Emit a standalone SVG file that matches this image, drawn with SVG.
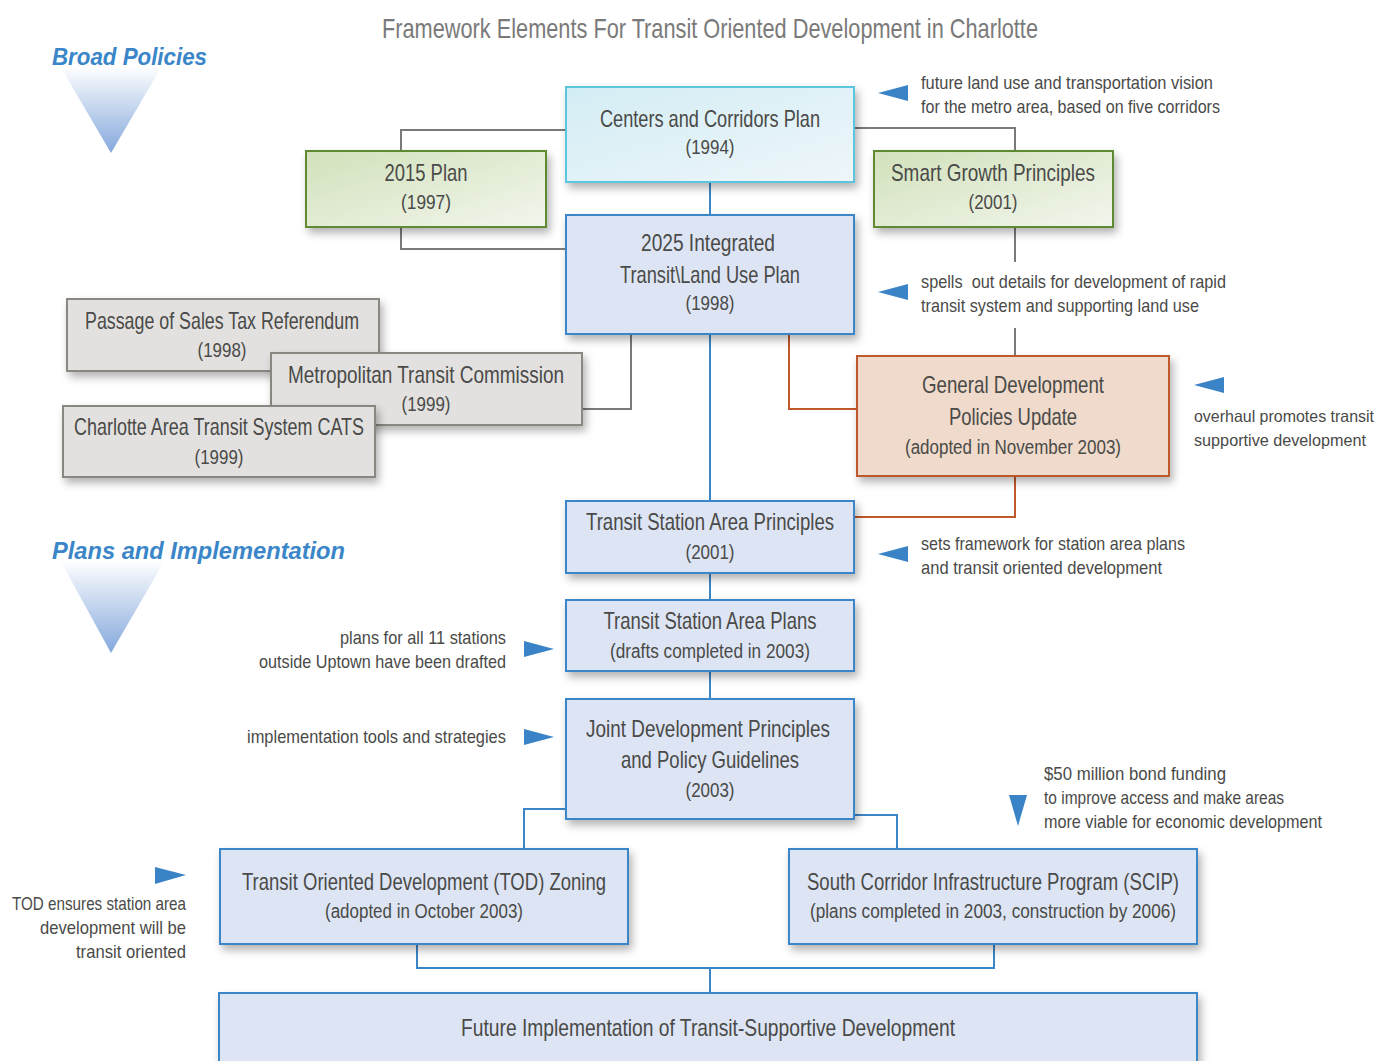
<svg xmlns="http://www.w3.org/2000/svg" width="1382" height="1061" viewBox="0 0 1382 1061">
<defs>
<linearGradient id="tri" x1="0" y1="0" x2="0" y2="1"><stop offset="0" stop-color="#ffffff"/><stop offset="1" stop-color="#84a8dc"/></linearGradient>
<linearGradient id="gGreen" x1="0" y1="0" x2="1" y2="1"><stop offset="0" stop-color="#d2e1bb"/><stop offset="1" stop-color="#f2f6ed"/></linearGradient>
<linearGradient id="gCyan" x1="0" y1="0" x2="1" y2="1"><stop offset="0" stop-color="#d3edf4"/><stop offset="1" stop-color="#eef6fa"/></linearGradient>
<filter id="sh" x="-10%" y="-10%" width="125%" height="135%"><feDropShadow dx="3" dy="5" stdDeviation="4" flood-color="#000" flood-opacity="0.3"/></filter>
</defs>
<style>
text{font-family:"Liberation Sans Narrow","Liberation Sans",Arial,sans-serif;fill:#4a4a48}
.t{font-size:24px;text-anchor:middle}
.y{font-size:20px;text-anchor:middle}
.a{font-size:19px}
.as{font-size:16.5px}
.ar{font-size:19px;text-anchor:end}
.h{font-size:24px;font-style:italic;font-weight:bold;fill:#3a86c8}
.title{font-size:28px;text-anchor:middle;fill:#7a7a7a}
.blue{fill:#dde5f4;stroke:#3b86c8;stroke-width:2}
.green{fill:url(#gGreen);stroke:#5e8a32;stroke-width:2}
.cyan{fill:url(#gCyan);stroke:#5cc6df;stroke-width:2}
.gray{fill:#e2e1df;stroke:#8a8680;stroke-width:2}
.org{fill:#efdacb;stroke:#c0582a;stroke-width:2}
.cg{fill:none;stroke:#7a7a7a;stroke-width:2}
.cb{fill:none;stroke:#3b86c8;stroke-width:2}
.co{fill:none;stroke:#c0582a;stroke-width:2}
.tri{fill:#3a83c6}
</style>
<rect width="1382" height="1061" fill="#ffffff"/>
<text class="title" x="710" y="38" textLength="656" lengthAdjust="spacingAndGlyphs">Framework Elements For Transit Oriented Development in Charlotte</text>
<g id="broad-policies">
<polygon points="60,66 162,66 111,153" fill="url(#tri)"/>
<text class="h" x="52" y="65" textLength="155" lengthAdjust="spacingAndGlyphs">Broad Policies</text>
</g>
<g id="plans-implementation">
<polygon points="60,560 165,560 111,653" fill="url(#tri)"/>
<text class="h" x="52" y="559" textLength="293" lengthAdjust="spacingAndGlyphs">Plans and Implementation</text>
</g>
<g id="connectors">
<polyline class="cg" points="401,151 401,130 566,130"/>
<polyline class="cg" points="854,128 1015,128 1015,151"/>
<polyline class="cg" points="401,227 401,249 566,249"/>
<line class="cg" x1="1015" y1="227" x2="1015" y2="262"/>
<line class="cg" x1="1015" y1="328" x2="1015" y2="356"/>
<line class="cb" x1="710" y1="182" x2="710" y2="215"/>
<polyline class="cg" points="631,334 631,409 582,409"/>
<polyline class="co" points="789,334 789,409 857,409"/>
<line class="cb" x1="710" y1="334" x2="710" y2="501"/>
<polyline class="co" points="1015,476 1015,517 854,517"/>
<line class="cb" x1="710" y1="573" x2="710" y2="600"/>
<line class="cb" x1="710" y1="671" x2="710" y2="699"/>
<polyline class="cb" points="566,809 524,809 524,849"/>
<polyline class="cb" points="854,815 897,815 897,849"/>
<polyline class="cb" points="417,944 417,968 994,968 994,944"/>
<line class="cb" x1="710" y1="968" x2="710" y2="993"/>
</g>
<g id="n-2015">
<rect class="green" x="306" y="151" width="240" height="76" filter="url(#sh)"/>
<text class="t" x="426" y="181" textLength="83" lengthAdjust="spacingAndGlyphs">2015 Plan</text>
<text class="y" x="426" y="209" textLength="50" lengthAdjust="spacingAndGlyphs">(1997)</text>
</g>
<g id="n-smart">
<rect class="green" x="874" y="151" width="239" height="76" filter="url(#sh)"/>
<text class="t" x="993" y="181" textLength="204" lengthAdjust="spacingAndGlyphs">Smart Growth Principles</text>
<text class="y" x="993" y="209" textLength="49" lengthAdjust="spacingAndGlyphs">(2001)</text>
</g>
<g id="n-centers">
<rect class="cyan" x="566" y="87" width="288" height="95" filter="url(#sh)"/>
<text class="t" x="710" y="127" textLength="220" lengthAdjust="spacingAndGlyphs">Centers and Corridors Plan</text>
<text class="y" x="710" y="154" textLength="49" lengthAdjust="spacingAndGlyphs">(1994)</text>
</g>
<g id="n-2025">
<rect class="blue" x="566" y="215" width="288" height="119" filter="url(#sh)"/>
<text class="t" x="708" y="251" textLength="134" lengthAdjust="spacingAndGlyphs">2025 Integrated</text>
<text class="t" x="710" y="283" textLength="180" lengthAdjust="spacingAndGlyphs">Transit\Land Use Plan</text>
<text class="y" x="710" y="310" textLength="49" lengthAdjust="spacingAndGlyphs">(1998)</text>
</g>
<g id="n-sales-tax">
<rect class="gray" x="67" y="299" width="312" height="72" filter="url(#sh)"/>
<text class="t" x="222" y="329" textLength="274" lengthAdjust="spacingAndGlyphs">Passage of Sales Tax Referendum</text>
<text class="y" x="222" y="357" textLength="49" lengthAdjust="spacingAndGlyphs">(1998)</text>
</g>
<g id="n-mtc">
<rect class="gray" x="271" y="353" width="311" height="72" filter="url(#sh)"/>
<text class="t" x="426" y="383" textLength="276" lengthAdjust="spacingAndGlyphs">Metropolitan Transit Commission</text>
<text class="y" x="426" y="411" textLength="49" lengthAdjust="spacingAndGlyphs">(1999)</text>
</g>
<g id="n-cats">
<rect class="gray" x="63" y="406" width="312" height="71" filter="url(#sh)"/>
<text class="t" x="219" y="435" textLength="290" lengthAdjust="spacingAndGlyphs">Charlotte Area Transit System CATS</text>
<text class="y" x="219" y="464" textLength="49" lengthAdjust="spacingAndGlyphs">(1999)</text>
</g>
<g id="n-gdp">
<rect class="org" x="857" y="356" width="312" height="120" filter="url(#sh)"/>
<text class="t" x="1013" y="393" textLength="182" lengthAdjust="spacingAndGlyphs">General Development</text>
<text class="t" x="1013" y="425" textLength="128" lengthAdjust="spacingAndGlyphs">Policies Update</text>
<text class="y" x="1013" y="454" textLength="216" lengthAdjust="spacingAndGlyphs">(adopted in November 2003)</text>
</g>
<g id="n-tsap">
<rect class="blue" x="566" y="501" width="288" height="72" filter="url(#sh)"/>
<text class="t" x="710" y="530" textLength="248" lengthAdjust="spacingAndGlyphs">Transit Station Area Principles</text>
<text class="y" x="710" y="559" textLength="49" lengthAdjust="spacingAndGlyphs">(2001)</text>
</g>
<g id="n-tsaplans">
<rect class="blue" x="566" y="600" width="288" height="71" filter="url(#sh)"/>
<text class="t" x="710" y="629" textLength="213" lengthAdjust="spacingAndGlyphs">Transit Station Area Plans</text>
<text class="y" x="710" y="658" textLength="200" lengthAdjust="spacingAndGlyphs">(drafts completed in 2003)</text>
</g>
<g id="n-joint">
<rect class="blue" x="566" y="699" width="288" height="120" filter="url(#sh)"/>
<text class="t" x="708" y="737" textLength="244" lengthAdjust="spacingAndGlyphs">Joint Development Principles</text>
<text class="t" x="710" y="768" textLength="178" lengthAdjust="spacingAndGlyphs">and Policy Guidelines</text>
<text class="y" x="710" y="797" textLength="49" lengthAdjust="spacingAndGlyphs">(2003)</text>
</g>
<g id="n-tod">
<rect class="blue" x="220" y="849" width="408" height="95" filter="url(#sh)"/>
<text class="t" x="424" y="890" textLength="364" lengthAdjust="spacingAndGlyphs">Transit Oriented Development (TOD) Zoning</text>
<text class="y" x="424" y="918" textLength="198" lengthAdjust="spacingAndGlyphs">(adopted in October 2003)</text>
</g>
<g id="n-scip">
<rect class="blue" x="789" y="849" width="408" height="95" filter="url(#sh)"/>
<text class="t" x="993" y="890" textLength="372" lengthAdjust="spacingAndGlyphs">South Corridor Infrastructure Program (SCIP)</text>
<text class="y" x="993" y="918" textLength="366" lengthAdjust="spacingAndGlyphs">(plans completed in 2003, construction by 2006)</text>
</g>
<g id="n-future">
<rect class="blue" x="219" y="993" width="978" height="80" filter="url(#sh)"/>
<text class="t" x="708" y="1036" textLength="494" lengthAdjust="spacingAndGlyphs">Future Implementation of Transit-Supportive Development</text>
</g>
<g id="annotations">
<polygon class="tri" points="878,93 908,85 908,101"/>
<text class="a" x="921" y="89" textLength="292" lengthAdjust="spacingAndGlyphs">future land use and transportation vision</text>
<text class="a" x="921" y="113" textLength="299" lengthAdjust="spacingAndGlyphs">for the metro area, based on five corridors</text>
<polygon class="tri" points="878,292 908,284 908,300"/>
<text class="a" x="921" y="288" textLength="305" lengthAdjust="spacingAndGlyphs" xml:space="preserve">spells  out details for development of rapid</text>
<text class="a" x="921" y="312" textLength="278" lengthAdjust="spacingAndGlyphs">transit system and supporting land use</text>
<polygon class="tri" points="1194,385 1224,377 1224,393"/>
<text class="as" x="1194" y="422" textLength="180" lengthAdjust="spacingAndGlyphs">overhaul promotes transit</text>
<text class="as" x="1194" y="446" textLength="172" lengthAdjust="spacingAndGlyphs">supportive development</text>
<polygon class="tri" points="878,554 908,546 908,562"/>
<text class="a" x="921" y="550" textLength="264" lengthAdjust="spacingAndGlyphs">sets framework for station area plans</text>
<text class="a" x="921" y="574" textLength="241" lengthAdjust="spacingAndGlyphs">and transit oriented development</text>
<polygon class="tri" points="524,641 554,649 524,657"/>
<text class="ar" x="506" y="644" textLength="166" lengthAdjust="spacingAndGlyphs">plans for all 11 stations</text>
<text class="ar" x="506" y="668" textLength="247" lengthAdjust="spacingAndGlyphs">outside Uptown have been drafted</text>
<polygon class="tri" points="524,729 554,737 524,745"/>
<text class="ar" x="506" y="743" textLength="259" lengthAdjust="spacingAndGlyphs">implementation tools and strategies</text>
<polygon class="tri" points="1009,795 1027,795 1018,826"/>
<text class="a" x="1044" y="780" textLength="182" lengthAdjust="spacingAndGlyphs">$50 million bond funding</text>
<text class="a" x="1044" y="804" textLength="240" lengthAdjust="spacingAndGlyphs">to improve access and make areas</text>
<text class="a" x="1044" y="828" textLength="278" lengthAdjust="spacingAndGlyphs">more viable for economic development</text>
<polygon class="tri" points="155,867 186,875 155,884"/>
<text class="ar" x="186" y="910" textLength="174" lengthAdjust="spacingAndGlyphs">TOD ensures station area</text>
<text class="ar" x="186" y="934" textLength="146" lengthAdjust="spacingAndGlyphs">development will be</text>
<text class="ar" x="186" y="958" textLength="110" lengthAdjust="spacingAndGlyphs">transit oriented</text>
</g>
</svg>
